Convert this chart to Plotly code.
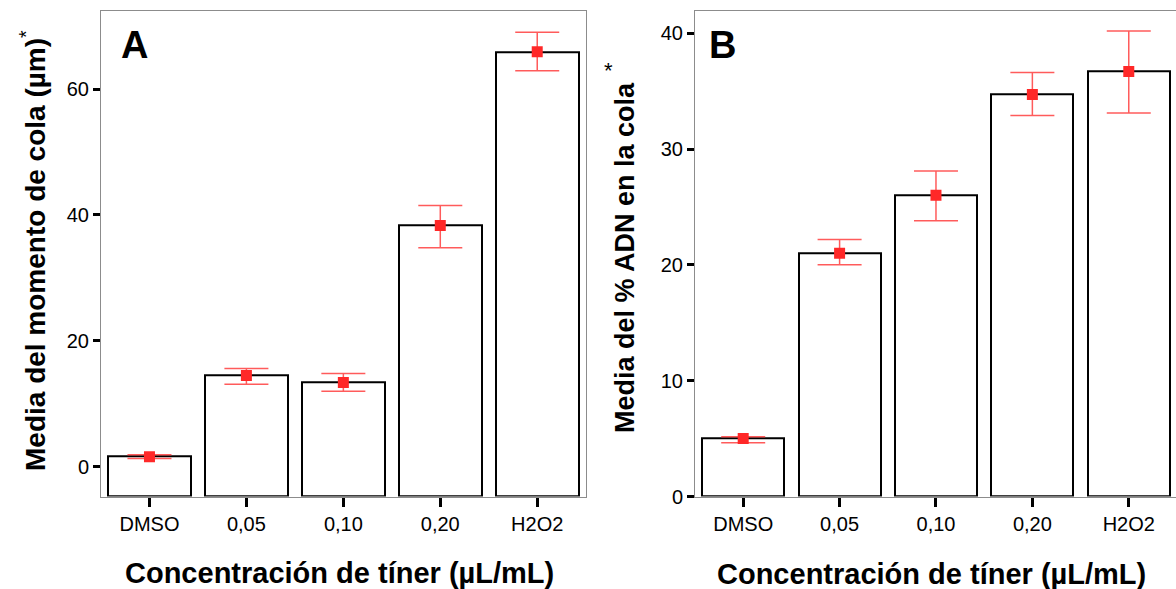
import plotly.graph_objects as go

categories = ["DMSO", "0,05", "0,10", "0,20", "H2O2"]

# Panel A: Media del momento de cola (µm)
a_means = [1.6, 14.5, 13.4, 38.3, 65.9]
a_err_plus = [0.3, 1.1, 1.4, 3.2, 3.1]
a_err_minus = [0.3, 1.4, 1.4, 3.5, 3.0]

# Panel B: Media del % ADN en la cola
b_means = [5.0, 21.0, 26.0, 34.7, 36.7]
b_err_plus = [0.15, 1.2, 2.1, 1.9, 3.5]
b_err_minus = [0.35, 1.0, 2.2, 1.8, 3.6]

a_ticks = [0, 20, 40, 60]
b_ticks = [0, 10, 20, 30, 40]

A_RANGE = [-4.73, 72.36]
B_RANGE = [0, 41.9]

W, H = 1176, 589
FONT = "Liberation Sans, Arial, sans-serif"
FRAME = "#8c8c8c"
MARK = "rgb(255,40,40)"
ERR = "rgba(255,50,50,0.8)"

fig = go.Figure()

fig.add_trace(go.Bar(
    x=categories, y=[m - A_RANGE[0] for m in a_means], base=A_RANGE[0],
    width=0.86, marker=dict(color="white", line=dict(color="black", width=2)),
    xaxis="x", yaxis="y", showlegend=False, hoverinfo="skip"))
fig.add_trace(go.Scatter(
    x=categories, y=a_means, mode="markers",
    marker=dict(symbol="square", size=11, color=MARK),
    error_y=dict(type="data", array=a_err_plus, arrayminus=a_err_minus,
                 color=ERR, thickness=1.5, width=22),
    xaxis="x", yaxis="y", showlegend=False))

fig.add_trace(go.Bar(
    x=categories, y=b_means, width=0.85,
    marker=dict(color="white", line=dict(color="black", width=2)),
    xaxis="x2", yaxis="y2", showlegend=False, hoverinfo="skip"))
fig.add_trace(go.Scatter(
    x=categories, y=b_means, mode="markers",
    marker=dict(symbol="square", size=11, color=MARK),
    error_y=dict(type="data", array=b_err_plus, arrayminus=b_err_minus,
                 color=ERR, thickness=1.5, width=22),
    xaxis="x2", yaxis="y2", showlegend=False))

ydom = [0.157, 0.981]
common_x = dict(type="category", showline=True, linecolor=FRAME, linewidth=1,
                ticks="outside", ticklen=9, tickwidth=3, tickcolor="black",
                tickfont=dict(family=FONT, size=20, color="black"),
                showgrid=False, zeroline=False, fixedrange=True, automargin=False)
common_y = dict(showline=True, linecolor=FRAME, linewidth=1,
                ticks="outside", ticklen=7, tickwidth=3, tickcolor="black",
                tickfont=dict(family=FONT, size=20, color="black"),
                showgrid=False, zeroline=False, fixedrange=True, automargin=False)

fig.update_layout(
    width=W, height=H,
    margin=dict(l=0, r=0, t=0, b=0, pad=0, autoexpand=False),
    paper_bgcolor="white", plot_bgcolor="white",
    bargap=0,
    xaxis=dict(domain=[101 / W, 585.7 / W], range=[-0.5, 4.5], anchor="y",
               mirror=True, **common_x),
    yaxis=dict(domain=ydom, range=A_RANGE, tickvals=a_ticks, anchor="x",
               mirror=True, **common_y),
    xaxis2=dict(domain=[695 / W, 1.0], range=[-0.5, 4.49], anchor="y2",
                mirror=True, **common_x),
    yaxis2=dict(domain=ydom, range=B_RANGE, tickvals=b_ticks, anchor="x2",
                mirror=False, **common_y),
)

def px_x(v):
    return v / W

def px_y(v):
    return 1 - v / H

annotations = [
    dict(text="<b>A</b>", x=px_x(134), y=px_y(45), font=dict(size=38)),
    dict(text="<b>B</b>", x=px_x(722), y=px_y(45), font=dict(size=38)),
    dict(text="<b>Concentración de tíner (µL/mL)</b>", x=px_x(339), y=px_y(573),
         font=dict(size=29)),
    dict(text="<b>Concentración de tíner (µL/mL)</b>", x=px_x(931), y=px_y(574),
         font=dict(size=29)),
    dict(text="<b>Media del momento de cola (µm)</b><sup>*</sup>", x=px_x(33), y=px_y(251),
         textangle=-90, font=dict(size=28)),
    dict(text="<b>Media del % ADN en la cola</b>", x=px_x(625), y=px_y(258),
         textangle=-90, font=dict(size=27)),
    dict(text="*", x=px_x(608), y=px_y(70), font=dict(size=22)),
]
for a in annotations:
    a.update(xref="paper", yref="paper", showarrow=False,
             xanchor="center", yanchor="middle")
    a["font"].update(family=FONT, color="black")
fig.update_layout(annotations=annotations)

fig.write_html("out.html", config={"displayModeBar": False})
